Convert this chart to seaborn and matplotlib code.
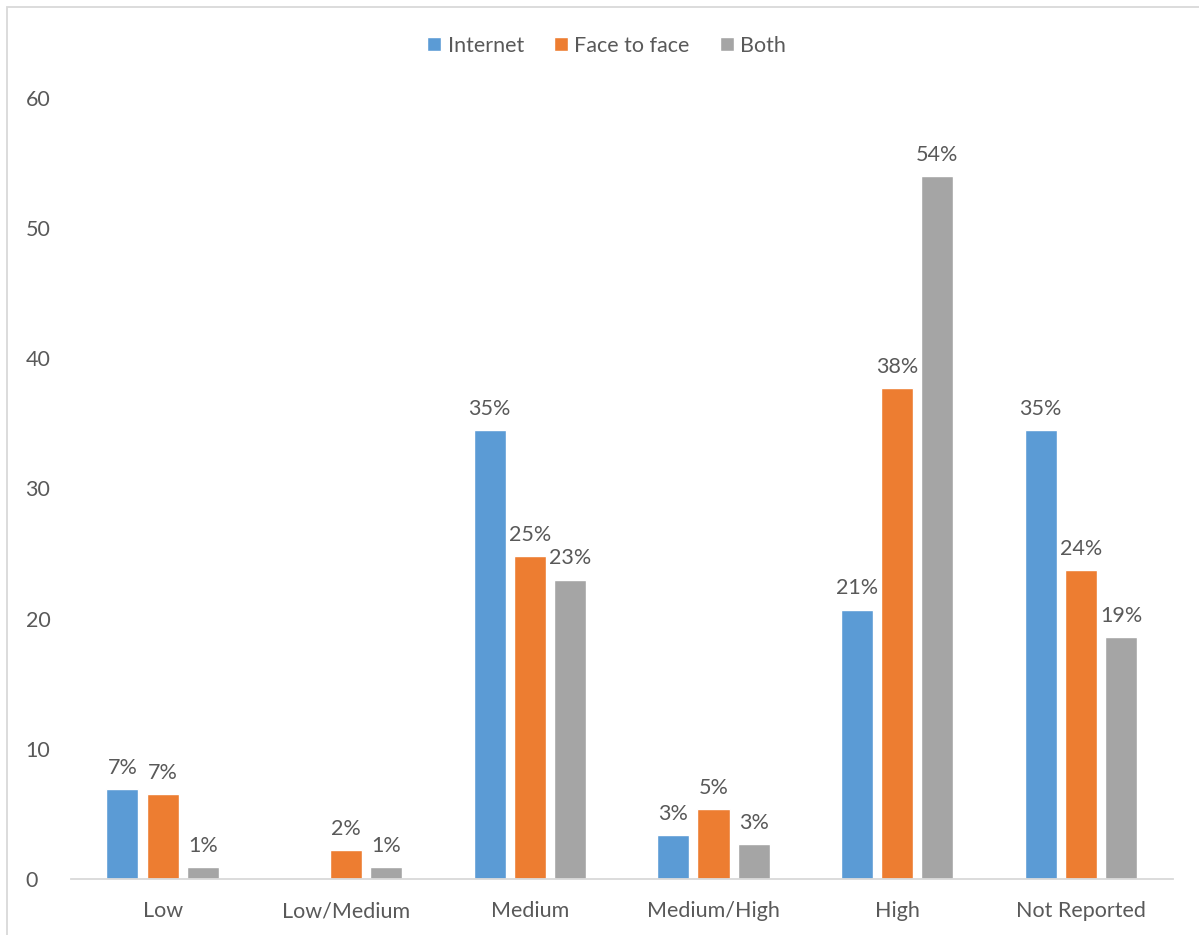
import matplotlib
matplotlib.use("Agg")
import matplotlib.pyplot as plt
import seaborn as sns
import pandas as pd
from matplotlib.patches import Rectangle

categories = ["Low", "Low/Medium", "Medium", "Medium/High", "High", "Not Reported"]
series = ["Internet", "Face to face", "Both"]
internet = [6.9, 0.0, 34.5, 3.4, 20.7, 34.5]
face = [6.5, 2.2, 24.8, 5.4, 37.7, 23.7]
both = [0.9, 0.9, 23.0, 2.7, 54.0, 18.6]
internet_labels = ["7%", "", "35%", "3%", "21%", "35%"]
face_labels = ["7%", "2%", "25%", "5%", "38%", "24%"]
both_labels = ["1%", "1%", "23%", "3%", "54%", "19%"]
colors = ["#5B9BD5", "#ED7D31", "#A5A5A5"]

rows = []
for s, vals in zip(series, [internet, face, both]):
    for c, v in zip(categories, vals):
        rows.append({"category": c, "series": s, "value": v})
df = pd.DataFrame(rows)

sns.set_style("white")
plt.rcParams["font.family"] = ["Lato", "DejaVu Sans"]
text_color = "#595959"
fs = 15.5

fig = plt.figure(figsize=(11.99, 9.35), dpi=100)
ax = fig.add_axes([0.059, 0.0599, 0.919, 0.8353])

sns.barplot(data=df, x="category", y="value", hue="series", order=categories,
            hue_order=series, palette=colors, width=0.656, gap=0.2,
            saturation=1, ax=ax, legend=True)

for container, labels in zip(ax.containers, [internet_labels, face_labels, both_labels]):
    ax.bar_label(container, labels=labels, padding=8, fontsize=fs, color=text_color)

ax.set_ylim(0, 60)
ax.set_xlim(-0.5, 5.5)
ax.set_yticks(range(0, 61, 10))
ax.set_xlabel("")
ax.set_ylabel("")
for sp in ["top", "right", "left"]:
    ax.spines[sp].set_visible(False)
ax.spines["bottom"].set_color("#D9D9D9")
ax.spines["bottom"].set_linewidth(1.3)
ax.tick_params(axis="x", length=0, pad=16, labelsize=fs, labelcolor=text_color)
ax.tick_params(axis="y", length=0, labelsize=fs, labelcolor=text_color)
for lbl in ax.get_yticklabels():
    lbl.set_horizontalalignment("left")
ax.yaxis.set_tick_params(pad=32.5)

handles, lbls = ax.get_legend_handles_labels()
ax.legend(handles, lbls, loc="center", bbox_to_anchor=(0.506, 0.951),
          bbox_transform=fig.transFigure, ncol=3, frameon=False,
          fontsize=fs, labelcolor=text_color, handlelength=0.65, handleheight=0.65,
          handletextpad=0.3, columnspacing=1.4)

fig.patches.append(Rectangle((7 / 1199, -0.05), 1.1, 1 - 7 / 935 + 0.05,
                             transform=fig.transFigure, fill=False,
                             edgecolor="#D9D9D9", linewidth=1.3))

fig.savefig("out.png", dpi=100)
